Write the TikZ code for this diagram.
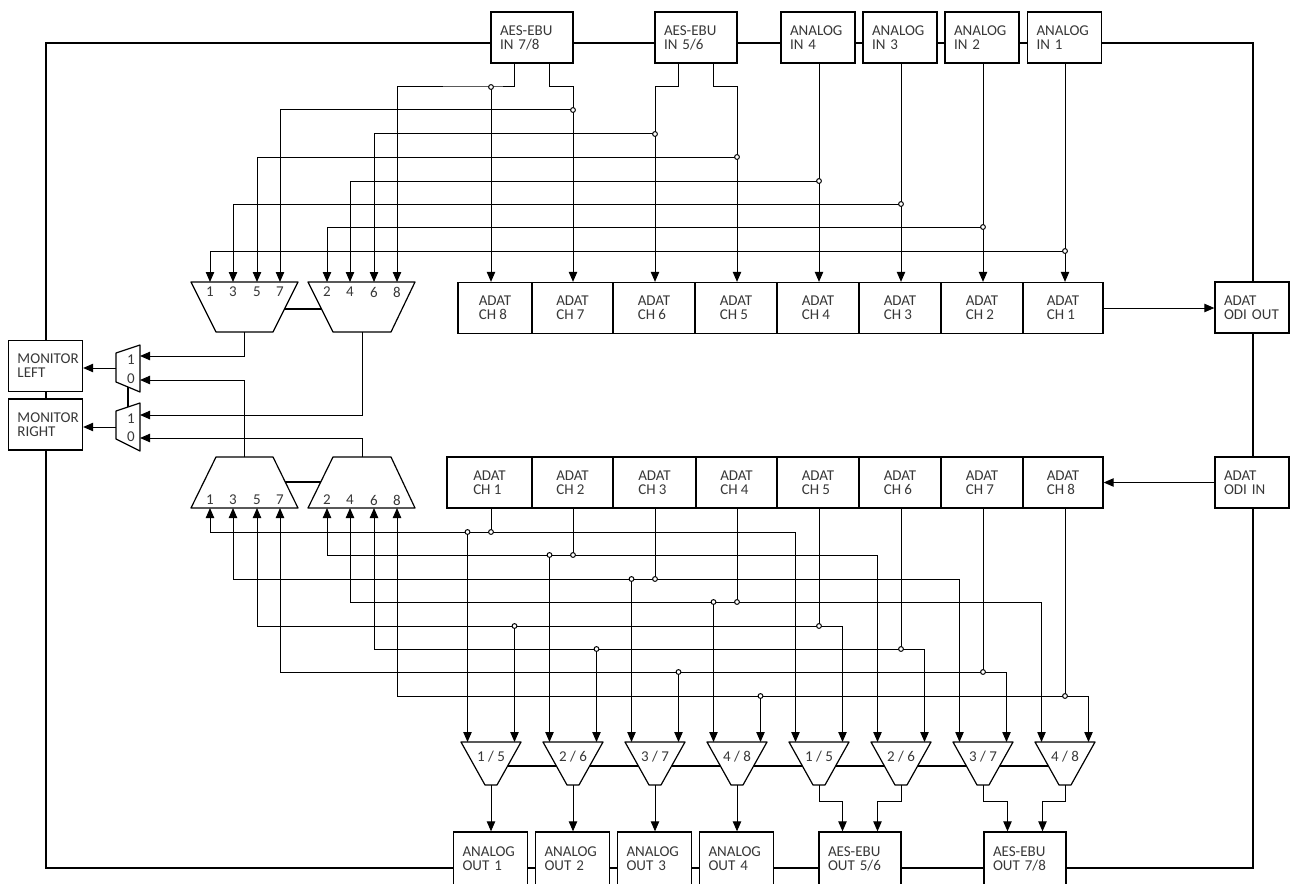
\documentclass[tikz,border=0pt]{standalone}
\usepackage{fontspec}
\setmainfont{Carlito}
\usetikzlibrary{arrows.meta}
\usetikzlibrary{calc}
\usetikzlibrary{positioning}

\tikzset{
  wire/.style={line width=0.5pt},
  sig/.style={wire, -{Triangle[length=5pt,width=4.2pt]}},
  bar/.style={line width=1.1pt},
  frame/.style={line width=1.3pt},
  lbl/.style={font=\fontsize{7.5}{7}\selectfont, text=black!78, inner sep=0pt},
  iobox/.style={lbl, draw, fill=white, line width=0.65pt, align=left, inner xsep=4.5pt, minimum height=25.5pt, text width=28pt},
  wide/.style={text width=32pt},
  cell/.style={lbl, draw, fill=white, line width=0.65pt, align=left, minimum height=25.5pt},
  mux/.style={draw, fill=white, line width=0.6pt, line join=round},
  tap/.style={circle, draw, fill=white, line width=0.5pt, inner sep=0pt, minimum size=2.4pt},
}

\begin{document}
\begin{tikzpicture}[x=0.5pt, y=-0.5pt]
\useasboundingbox (0,0) rectangle (1295,883);
\clip (0,0) rectangle (1295,883);

\draw[frame] (46,43) rectangle (1253,868);

% inputs
\node[iobox, wide] (aes78) at (532,37.5) {AES-EBU\\IN 7/8};
\node[iobox, wide] (aes56) at (696,37.5) {AES-EBU\\IN 5/6};
\node[iobox] (ain4) at (818,37.5) {ANALOG\\IN 4};
\node[iobox] (ain3) at (900,37.5) {ANALOG\\IN 3};
\node[iobox] (ain2) at (982,37.5) {ANALOG\\IN 2};
\node[iobox] (ain1) at (1064.5,37.5) {ANALOG\\IN 1};
\node[iobox] (odiout) at (1252,307.5) {ADAT\\ODI OUT};
\node[iobox] (odiin) at (1252,482.5) {ADAT\\ODI IN};
\node[iobox] (monl) at (45.5,366) {MONITOR\\LEFT};
\node[iobox] (monr) at (45.5,424.5) {MONITOR\\RIGHT};

% outputs
\node[iobox, minimum height=26.5pt] (aout1) at (490.5,858.5) {ANALOG\\OUT 1};
\node[iobox, minimum height=26.5pt] (aout2) at (572.5,858.5) {ANALOG\\OUT 2};
\node[iobox, minimum height=26.5pt] (aout3) at (654.5,858.5) {ANALOG\\OUT 3};
\node[iobox, minimum height=26.5pt] (aout4) at (736.5,858.5) {ANALOG\\OUT 4};
\node[iobox, wide, minimum height=26.5pt] (aesout56) at (860,858.5) {AES-EBU\\OUT 5/6};
\node[iobox, wide, minimum height=26.5pt] (aesout78) at (1025,858.5) {AES-EBU\\OUT 7/8};

% ADAT channel rows
\foreach \n/\l/\r in {8/458/532, 7/532/613, 6/613/695, 5/695/777, 4/777/859, 3/859/941, 2/941/1023, 1/1023/1103}{
  \pgfmathsetmacro\w{(\r-\l)/2}
  \node[cell, minimum width=\w pt] (u\n) at ({(\l+\r)/2},308) {ADAT\\CH \n};
}
\foreach \n/\l/\r in {1/447/532, 2/532/613, 3/613/696, 4/696/777, 5/777/859, 6/859/941, 7/941/1023, 8/1023/1103}{
  \pgfmathsetmacro\w{(\r-\l)/2}
  \node[cell, minimum width=\w pt] (d\n) at ({(\l+\r)/2},482.5) {ADAT\\CH \n};
}

% monitor selectors
\draw[bar] (250,309) -- (350,309);
\draw[bar] (250,482) -- (350,482);
\draw[mux] (191,282) -- (298,282) -- (273,332) -- (216,332) -- cycle;
\draw[mux] (308,282) -- (415,282) -- (391,332) -- (333,332) -- cycle;
\draw[mux] (216,457) -- (273,457) -- (298,508) -- (191,508) -- cycle;
\draw[mux] (333,457) -- (391,457) -- (415,508) -- (308,508) -- cycle;
\foreach \p/\x in {1/210,3/233,5/257,7/280,2/327,4/350,6/374,8/397}{
  \node[lbl] (pt\p) at (\x,292) {\p};
  \node[lbl] (pb\p) at (\x,500) {\p};
}
\coordinate (so) at (244.5,332);
\coordinate (se) at (362,332);
\coordinate (lo) at (244.5,457);
\coordinate (le) at (362,457);

\draw[bar] (128,387) -- (128,407);
\draw[mux] (140,345) -- (140,392) -- (116,382) -- (116,353) -- cycle;
\draw[mux] (140,403) -- (140,451) -- (116,439) -- (116,411) -- cycle;
\node[lbl] (sl1) at (131,360) {1};
\node[lbl] (sl0) at (131,379) {0};
\node[lbl] (sr1) at (131,419) {1};
\node[lbl] (sr0) at (131,437) {0};
\coordinate (mlI) at (140,356);
\coordinate (mlO) at (140,380);
\coordinate (mrI) at (140,415);
\coordinate (mrO) at (140,438);
\coordinate (mlq) at (116,368);
\coordinate (mrq) at (116,427);

\draw[sig] (so) |- (mlI);
\draw[sig] (se) |- (mrI);
\draw[sig] (lo) |- (mlO);
\draw[sig] (le) |- (mrO);
\draw[sig] (mlq) -- (mlq -| monl.east);
\draw[sig] (mrq) -- (mrq -| monr.east);

% output selectors
\draw[bar] (491,766) -- (1065,766);
\foreach \m/\c/\a/\b in {1/491/1/5, 2/573/2/6, 3/655/3/7, 4/737/4/8, 5/819/1/5, 6/901/2/6, 7/983/3/7, 8/1065/4/8}{
  \draw[mux] (\c-30,742) -- (\c+30,742) -- (\c+6,785) -- (\c-6,785) -- cycle;
  \node[lbl] (ms\m) at (\c,757) {\a{} / \b};
  \coordinate (ml\m) at (\c-23.5,742);
  \coordinate (mr\m) at (\c+23.5,742);
  \coordinate (mo\m) at (\c,785);
}
\foreach \m in {1,...,4}
  \draw[sig] (mo\m) -- (mo\m |- aout\m.north);
\draw[sig] (mo5) -- ++(0,16) -| ([xshift=-8.75pt]aesout56.north);
\draw[sig] (mo6) -- ++(0,16) -| ([xshift=8.75pt]aesout56.north);
\draw[sig] (mo7) -- ++(0,16) -| ([xshift=-8.75pt]aesout78.north);
\draw[sig] (mo8) -- ++(0,16) -| ([xshift=8.75pt]aesout78.north);

% ADAT links
\draw[sig] (u1.east) -- (u1.east -| odiout.west);
\draw[sig] (odiin.west) -- (odiin.west -| d8.east);

% input side routing
\foreach \k/\cx/\yy/\px in {1/1065/251/210, 2/983/227/327, 3/901/204/233, 4/819/181/350, 5/737/157/257, 6/655/134/374, 7/573/110/280, 8/491/87/397}{
  \coordinate (t\k) at (\cx,\yy);
  \coordinate (p\k) at (\px,282);
}
\coordinate (j7) at (573,87);
\coordinate (j6) at (655,87);
\coordinate (j5) at (737,87);
\foreach \k in {1,...,4}
  \draw[sig] (t\k |- ain\k.south) -- (t\k |- u\k.north);
\draw[sig] ([xshift=-8.75pt]aes78.south) |- (t8) -| (p8);
\draw[sig] (t8) -- (t8 |- u8.north);
\draw[sig] ([xshift=8.75pt]aes78.south) |- (j7) -- (t7 |- u7.north);
\draw[sig] ([xshift=-8.75pt]aes56.south) |- (j6) -- (t6 |- u6.north);
\draw[sig] ([xshift=8.75pt]aes56.south) |- (j5) -- (t5 |- u5.north);
\foreach \k in {1,...,7}
  \draw[sig] (t\k) -| (p\k);
\foreach \k in {1,...,8}
  \node[tap] (tt\k) at (t\k) {};

% output side routing
\foreach \k/\cx/\yy/\px in {1/491/532/210, 2/573/555/327, 3/655/579/233, 4/737/602/350, 5/819/626/257, 6/901/649/374, 7/983/672/280, 8/1065/696/397}{
  \coordinate (b\k) at (\cx,\yy);
  \coordinate (q\k) at (\px,508);
}
\foreach \k/\a/\s in {1/1/l, 2/2/l, 3/3/l, 4/4/l, 5/1/r, 6/2/r, 7/3/r, 8/4/r}{
  \pgfmathtruncatemacro\e{\a+4}
  \draw[wire] (b\k |- d\k.south) -- (b\k);
  \draw[sig] (b\k) -| (q\k);
  \draw[sig] (b\k) -| (m\s\e);
  \draw[sig] (b\k -| m\s\a) -- (m\s\a);
  \node[tap] (tb\k) at (b\k) {};
  \node[tap] (ta\k) at (b\k -| m\s\a) {};
}
\end{tikzpicture}
\end{document}
